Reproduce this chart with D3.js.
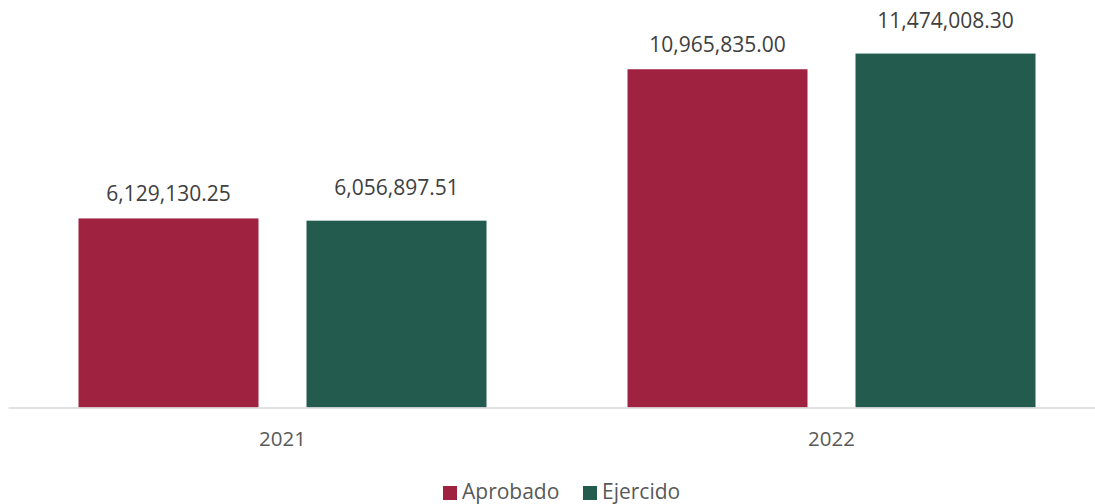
<!DOCTYPE html>
<html>
<head>
<meta charset="utf-8">
<script src="https://cdn.jsdelivr.net/npm/d3@7"></script>
<style>
  html, body { margin: 0; padding: 0; background: #fff; overflow: hidden; }
  svg { display: block; font-family: "Open Sans", sans-serif; }
</style>
</head>
<body>
<svg id="chart" width="1095" height="504"></svg>
<script>
const years = ["2021", "2022"];
const seriesNames = ["Aprobado", "Ejercido"];
const aprobado = [6129130.25, 10965835.00];
const ejercido = [6056897.51, 11474008.30];
const seriesColors = ["#9F2241", "#235B4E"];
const labelGap = [17, 26];

const svg = d3.select("#chart");
const W = 1095, H = 504;
const baseY = 407.5;

const x0 = d3.scaleBand().domain(years).range([8, 1106]).paddingInner(0).paddingOuter(0);
const x1 = d3.scaleBand().domain(seriesNames).range([70.5, 478.5]).paddingInner(48 / 228).paddingOuter(0);
const y = d3.scaleLinear().domain([0, 13000000]).range([baseY, 6.5]);

const data = years.map((yr, i) => ({
  year: yr,
  values: [
    { name: seriesNames[0], value: aprobado[i], si: 0 },
    { name: seriesNames[1], value: ejercido[i], si: 1 }
  ]
}));

const fmt = d3.format(",.2f");

const groups = svg.selectAll("g.grp").data(data).enter().append("g")
  .attr("class", "grp")
  .attr("transform", d => `translate(${x0(d.year)},0)`);

groups.selectAll("rect").data(d => d.values).enter().append("rect")
  .attr("x", d => x1(d.name))
  .attr("y", d => y(d.value))
  .attr("width", x1.bandwidth())
  .attr("height", d => baseY - y(d.value))
  .attr("fill", d => seriesColors[d.si]);

groups.selectAll("text.lbl").data(d => d.values).enter().append("text")
  .attr("class", "lbl")
  .attr("x", d => x1(d.name) + x1.bandwidth() / 2)
  .attr("y", d => y(d.value) - labelGap[d.si])
  .attr("text-anchor", "middle")
  .attr("font-size", 21)
  .attr("fill", "#404040")
  .text(d => fmt(d.value));

// x axis
const axis = svg.append("g").attr("transform", `translate(0,${baseY})`)
  .call(d3.axisBottom(x0).tickSize(0).tickPadding(24));
axis.select(".domain").attr("stroke", "#d9d9d9").attr("stroke-width", 1.5);
axis.selectAll("text").attr("font-size", 20.5).attr("fill", "#595959")
  .attr("font-family", "Open Sans, sans-serif");

// legend
const legendItems = [
  { name: seriesNames[0], color: seriesColors[0], x: 443 },
  { name: seriesNames[1], color: seriesColors[1], x: 583 }
];
const lg = svg.append("g");
legendItems.forEach(it => {
  lg.append("rect").attr("x", it.x).attr("y", 486).attr("width", 14).attr("height", 14).attr("fill", it.color);
  lg.append("text").attr("x", it.x + 19).attr("y", 499).attr("font-size", 21).attr("fill", "#595959").text(it.name);
});
</script>
</body>
</html>
